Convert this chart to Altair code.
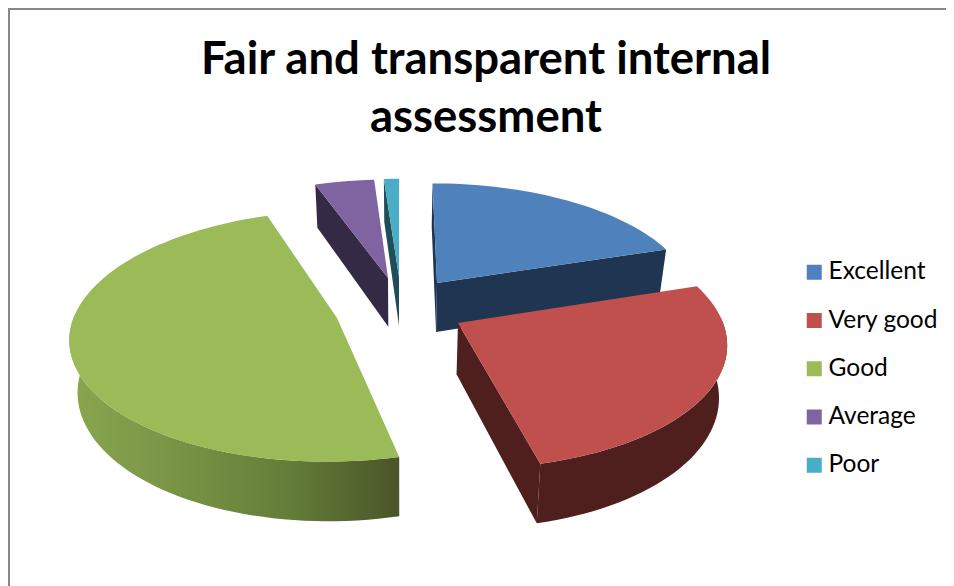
import math
import altair as alt

CATEGORIES = ["Excellent", "Very good", "Good", "Average", "Poor"]
VALUES = [20.0, 26.2, 48.4, 4.3, 1.1]
TOP_COLORS = ["#4f81bd", "#c0504d", "#9bbb59", "#8064a2", "#4bacc6"]
DARK_COLORS = ["#1f3552", "#4f1f1d", "#4a5528", "#352a45", "#1f4d59"]
TITLE_LINES = ["Fair and transparent internal", "assessment"]

# Perspective model of the pie (screen pixels)
VX, Y0, RX, RY, K, DEPTH, SHRINK = 400.0, 300.0, 258.0, 118.0, 0.14, 50.0, 0.975
# Where each exploded slice's tip lands on screen
APEX = [(437, 283), (458, 323), (337, 318), (388, 278), (399, 277)]


def world_apex(sx, sy):
    t = Y0 - sy
    wy = t / (RY - K * t)
    wx = (sx - VX) / (RX / (1 + K * wy))
    return wx, wy


def to_screen(wx, wy, bottom=False):
    p = 1 / (1 + K * wy)
    x = VX + RX * wx * p
    y = Y0 - RY * wy * p
    if bottom:
        x = VX + (x - VX) * SHRINK
        y = y + DEPTH * p
    return [round(x, 2), round(y, 2)]


def rim(i, deg, bottom=False):
    ax, ay = world_apex(*APEX[i])
    r = math.radians(deg)
    return to_screen(ax + math.sin(r), ay + math.cos(r), bottom)


def tip(i, bottom=False):
    return to_screen(*world_apex(*APEX[i]), bottom)


def feature(ring, **props):
    return {
        "type": "Feature",
        "properties": props,
        "geometry": {"type": "Polygon", "coordinates": [ring + [ring[0]]]},
    }


def degs(a, b):
    n = max(2, int(abs(b - a) / 2))
    return [a + (b - a) * j / n for j in range(n + 1)]


total = sum(VALUES)
edges = [0.0]
for v in VALUES:
    edges.append(edges[-1] + v / total * 360)

PROJ = dict(type="identity", scale=1, translate=[-8, -8])


def cut_face(i, deg):
    return feature([tip(i), rim(i, deg), rim(i, deg, True), tip(i, True)])


def outer_wall(i, a, b):
    top = [rim(i, d) for d in degs(a, b)]
    low = [rim(i, d, True) for d in degs(b, a)]
    return feature(top + low)


def wall_layer(feat, fill):
    return alt.Chart(alt.Data(values=[feat])).mark_geoshape(
        fill=fill, strokeWidth=0, stroke="transparent"
    ).project(**PROJ)


layers = []

border = alt.Chart(alt.Data(values=[{"k": 0}]))
layers.append(border.mark_rule(color="#888888", strokeWidth=2).encode(
    x=alt.value(1), y=alt.value(0), y2=alt.value(578)))
layers.append(border.mark_rule(color="#888888", strokeWidth=2).encode(
    y=alt.value(1), x=alt.value(0), x2=alt.value(938)))

# Side faces, drawn back to front
layers.append(wall_layer(cut_face(4, edges[4]), DARK_COLORS[4]))
layers.append(wall_layer(cut_face(3, edges[3]), DARK_COLORS[3]))
layers.append(wall_layer(cut_face(0, edges[0]), DARK_COLORS[0]))
layers.append(wall_layer(cut_face(0, edges[1]), DARK_COLORS[0]))
layers.append(wall_layer(cut_face(1, edges[2]), DARK_COLORS[1]))
layers.append(wall_layer(outer_wall(1, 88, edges[2]), DARK_COLORS[1]))
green_gradient = alt.Gradient(
    gradient="linear",
    x1=0, x2=1, y1=0, y2=0,
    stops=[
        alt.GradientStop(color="#8aa64e", offset=0),
        alt.GradientStop(color="#7a9546", offset=0.3),
        alt.GradientStop(color="#657f3a", offset=0.65),
        alt.GradientStop(color="#4a5528", offset=1),
    ],
)
layers.append(wall_layer(outer_wall(2, edges[2], 272), green_gradient))

# Top faces carry the category colour and the legend
tops = []
for i, cat in enumerate(CATEGORIES):
    ring = [tip(i)] + [rim(i, d) for d in degs(edges[i], edges[i + 1])]
    tops.append(feature(ring, category=cat))

layers.append(
    alt.Chart(alt.Data(values=tops))
    .mark_geoshape(strokeWidth=0, stroke="transparent")
    .encode(
        color=alt.Color(
            "properties.category:N",
            scale=alt.Scale(domain=CATEGORIES, range=TOP_COLORS),
            legend=alt.Legend(
                orient="none",
                legendX=794,
                legendY=252,
                title=None,
                symbolType="square",
                symbolSize=225,
                symbolStrokeWidth=0,
                symbolOpacity=1,
                labelFont="Lato",
                labelFontSize=24.5,
                labelColor="#000000",
                labelOffset=2,
                labelLimit=200,
                rowPadding=23.25,
            ),
        )
    )
    .project(**PROJ)
)

chart = alt.layer(*layers).properties(
    width=938,
    height=578,
    padding=0,
    autosize=alt.AutoSizeParams(type="none"),
    background="white",
    title=alt.TitleParams(
        text=TITLE_LINES,
        font="Lato",
        fontWeight="bold",
        fontSize=45.5,
        lineHeight=58,
        color="#000000",
        anchor="middle",
        frame="group",
        dx=9,
        dy=138,
        limit=900,
    ),
).configure_view(stroke=None)

chart.save("out.html", embed_options={"renderer": "svg", "actions": False})
